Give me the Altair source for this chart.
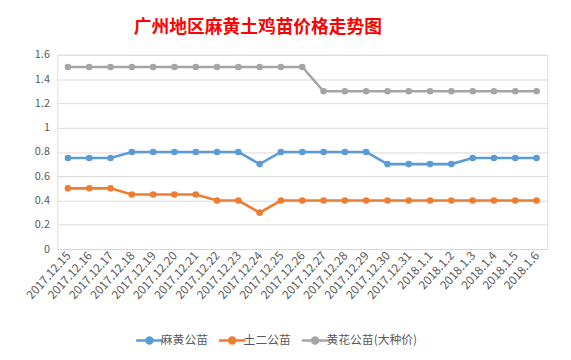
import altair as alt
import pandas as pd

dates = ["2017.12.15","2017.12.16","2017.12.17","2017.12.18","2017.12.19","2017.12.20",
         "2017.12.21","2017.12.22","2017.12.23","2017.12.24","2017.12.25","2017.12.26",
         "2017.12.27","2017.12.28","2017.12.29","2017.12.30","2017.12.31","2018.1.1",
         "2018.1.2","2018.1.3","2018.1.4","2018.1.5","2018.1.6"]
mahuang = [0.75,0.75,0.75,0.8,0.8,0.8,0.8,0.8,0.8,0.7,0.8,0.8,0.8,0.8,0.8,0.7,0.7,0.7,0.7,0.75,0.75,0.75,0.75]
tuer = [0.5,0.5,0.5,0.45,0.45,0.45,0.45,0.4,0.4,0.3,0.4,0.4,0.4,0.4,0.4,0.4,0.4,0.4,0.4,0.4,0.4,0.4,0.4]
huanghua = [1.5,1.5,1.5,1.5,1.5,1.5,1.5,1.5,1.5,1.5,1.5,1.5,1.3,1.3,1.3,1.3,1.3,1.3,1.3,1.3,1.3,1.3,1.3]
series = ["麻黄公苗", "土二公苗", "黄花公苗(大种价)"]
colors = ["#5B9BD5", "#ED7D31", "#A5A5A5"]
yticks = [0, 0.2, 0.4, 0.6, 0.8, 1.0, 1.2, 1.4, 1.6]

rows = []
for name, vals in zip(series, [mahuang, tuer, huanghua]):
    for d, v in zip(dates, vals):
        rows.append({"date": d, "series": name, "price": v})
df = pd.DataFrame(rows)

font = "Noto Sans CJK SC"

x = alt.X("date:N", sort=dates, title=None,
          scale=alt.Scale(type="point", padding=0.5),
          axis=alt.Axis(labelAngle=-48, labelColor="#595959", labelFontSize=12,
                        domainColor="#D9D9D9", ticks=False, labelPadding=4, labelFont=font))
y = alt.Y("price:Q", title=None,
          scale=alt.Scale(domain=[0, 1.6], nice=False),
          axis=alt.Axis(values=yticks, format="~g", labelColor="#595959", labelFontSize=11,
                        domain=False, ticks=False, gridColor="#D9D9D9", labelPadding=8,
                        labelFont=font))
color = alt.Color("series:N", sort=series,
                  scale=alt.Scale(domain=series, range=colors),
                  legend=alt.Legend(title=None, orient="none", direction="horizontal",
                                    legendX=86, legendY=282,
                                    symbolType="M-2.2,0H2.2M0.5,0A0.5,0.5,0,1,1,-0.5,0A0.5,0.5,0,1,1,0.5,0",
                                    symbolSize=150, symbolStrokeWidth=2.5,
                                    labelFontSize=12, labelColor="#595959", labelFont=font,
                                    columnPadding=5, labelOffset=4))

base = alt.Chart(df).encode(x=x, y=y, color=color)
lines = base.mark_line(strokeWidth=2.6)
points = base.mark_circle(size=45, opacity=1)

chart = (lines + points).properties(
    width=497, height=197,
    title=alt.Title("广州地区麻黄土鸡苗价格走势图", color="#FF0000", fontSize=18,
                    font=font, fontWeight="bold", anchor="middle", dx=-45, offset=12),
    autosize=alt.AutoSizeParams(type="none"),
    padding={"left": 50, "top": 45, "right": 16, "bottom": 110},
).configure_view(stroke=None).configure(background="white")

chart.save("out.html", embed_options={"renderer": "svg", "actions": False})
